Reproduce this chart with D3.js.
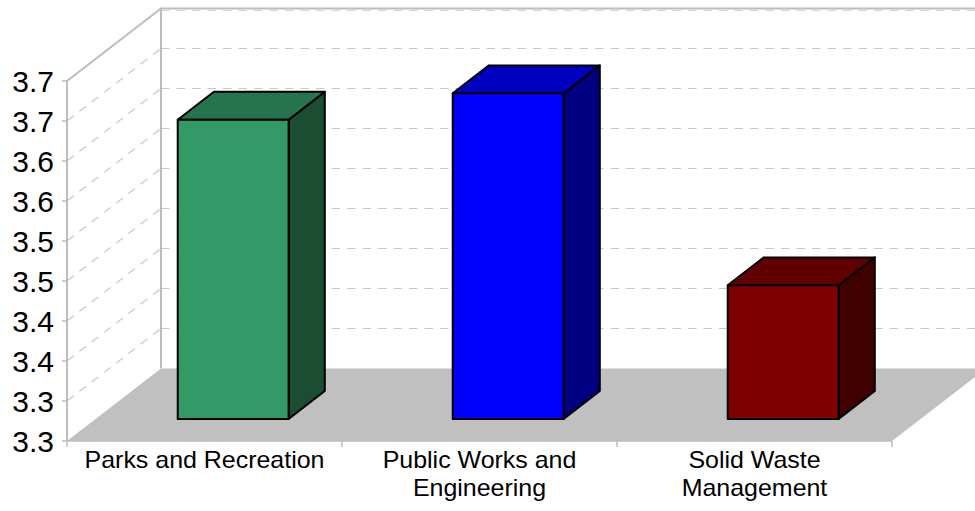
<!DOCTYPE html>
<html>
<head>
<meta charset="utf-8">
<script src="https://cdn.jsdelivr.net/npm/d3@7"></script>
<style>
  html, body { margin: 0; padding: 0; background: #fff; }
  svg { display: block; }
  text { font-family: "Liberation Sans", Arial, sans-serif; fill: #000; }
</style>
</head>
<body>
<svg id="chart" width="975" height="511"></svg>
<script>
// Department ratings
const categories = ["Parks and Recreation", "Public Works and Engineering", "Solid Waste Management"];
const categoryLines = [["Parks and Recreation"], ["Public Works and", "Engineering"], ["Solid Waste", "Management"]];
const values = [3.624, 3.657, 3.417];
const tickValues = [3.25, 3.30, 3.35, 3.40, 3.45, 3.50, 3.55, 3.60, 3.65, 3.70];
const tickLabels = ["3.3", "3.3", "3.4", "3.4", "3.5", "3.5", "3.6", "3.6", "3.7", "3.7"];

const frontColors = ["#339966", "#0000ff", "#800000"];
const topColors = ["#267350", "#0000c0", "#600000"];
const sideColors = ["#1b4d33", "#000080", "#400000"];

const W = 975, H = 511;
const svg = d3.select("#chart");

// front plane of the plot box
const x0 = 67, x1 = 892, yBottom = 441, yTop = 81;
// depth offset of the back wall
const DX = 94, DY = -72.5;
const barD0 = 0.305, barD1 = 0.69;

const x = d3.scaleBand().domain(categories).range([x0, x1]).padding(0);
const y = d3.scaleLinear().domain([3.25, 3.70]).range([yBottom, yTop]);
const barWidth = x.bandwidth() / 2.48;

const P = (px, py, d) => [px + d * DX, py + d * DY];
const poly = pts => "M" + pts.map(p => p.join(",")).join("L") + "Z";

const gridColor = "#c8c8c8";
const wallColor = "#bdbdbd";

// floor
svg.append("path")
  .attr("d", poly([P(x0, yBottom, 0), P(x1, yBottom, 0), P(x1, yBottom, 1), P(x0, yBottom, 1)]))
  .attr("fill", "#c0c0c0");

// back wall gridlines
svg.append("g").selectAll("line")
  .data(tickValues.slice(1, -1))
  .join("line")
  .attr("x1", x0 + DX).attr("x2", W + 20)
  .attr("y1", d => y(d) + DY).attr("y2", d => y(d) + DY)
  .attr("stroke", gridColor).attr("stroke-width", 1.2)
  .attr("stroke-dasharray", "8.5,7");

// side wall gridlines
svg.append("g").selectAll("line")
  .data(tickValues.slice(1, -1))
  .join("line")
  .attr("x1", x0).attr("y1", d => y(d))
  .attr("x2", x0 + DX).attr("y2", d => y(d) + DY)
  .attr("stroke", gridColor).attr("stroke-width", 1.2)
  .attr("stroke-dasharray", "8.5,7");

// top wall edge (dashed under, solid over)
svg.append("line")
  .attr("x1", x0 + DX).attr("x2", W + 20)
  .attr("y1", y(3.70) + DY + 2).attr("y2", y(3.70) + DY + 2)
  .attr("stroke", "#d4d4d4").attr("stroke-width", 1.2)
  .attr("stroke-dasharray", "8.5,7");
svg.append("line")
  .attr("x1", x0 + DX).attr("x2", W + 20)
  .attr("y1", y(3.70) + DY).attr("y2", y(3.70) + DY)
  .attr("stroke", wallColor).attr("stroke-width", 2);

// wall outline
svg.append("path")
  .attr("d", "M" + [x0, yBottom] + "L" + [x0, yTop] + "L" + P(x0, yTop, 1) + "L" + P(x0, yBottom, 1))
  .attr("fill", "none").attr("stroke", wallColor).attr("stroke-width", 2);

// floor front edge
svg.append("line")
  .attr("x1", x0).attr("x2", x1).attr("y1", yBottom).attr("y2", yBottom)
  .attr("stroke", wallColor).attr("stroke-width", 1.5);

// y ticks and labels
const yAxis = svg.append("g");
yAxis.selectAll("line").data(tickValues).join("line")
  .attr("x1", x0 - 5).attr("x2", x0)
  .attr("y1", d => y(d)).attr("y2", d => y(d))
  .attr("stroke", wallColor).attr("stroke-width", 1.5);
yAxis.selectAll("text").data(tickValues).join("text")
  .attr("x", 54).attr("y", d => y(d))
  .attr("dy", "0.36em")
  .attr("text-anchor", "end")
  .attr("font-size", 30)
  .text((d, i) => tickLabels[i]);

// category ticks
const catTicks = categories.map(c => x(c)).concat([x1]);
svg.append("g").selectAll("line").data(catTicks).join("line")
  .attr("x1", d => d).attr("x2", d => d)
  .attr("y1", yBottom).attr("y2", yBottom + 6)
  .attr("stroke", wallColor).attr("stroke-width", 1.5);

// category labels
const labels = svg.append("g");
categories.forEach((c, i) => {
  const cx = x(c) + x.bandwidth() / 2;
  const t = labels.append("text")
    .attr("text-anchor", "middle")
    .attr("font-size", 24)
    .attr("transform", `translate(${cx},0) scale(1.04,1)`);
  categoryLines[i].forEach((line, j) => {
    t.append("tspan").attr("x", 0).attr("y", 468 + j * 28).text(line);
  });
});

// bars
const bars = svg.append("g");
categories.forEach((c, i) => {
  const cx = x(c) + x.bandwidth() / 2;
  const l = cx - barWidth / 2, r = cx + barWidth / 2;
  const b = y(3.25), t = y(values[i]);
  const g = bars.append("g")
    .attr("stroke", "#000").attr("stroke-width", 2).attr("stroke-linejoin", "round");
  // side
  g.append("path").attr("fill", sideColors[i])
    .attr("d", poly([P(r, t, barD0), P(r, t, barD1), P(r, b, barD1), P(r, b, barD0)]));
  // top
  g.append("path").attr("fill", topColors[i])
    .attr("d", poly([P(l, t, barD0), P(l, t, barD1), P(r, t, barD1), P(r, t, barD0)]));
  // front
  g.append("path").attr("fill", frontColors[i])
    .attr("d", poly([P(l, t, barD0), P(r, t, barD0), P(r, b, barD0), P(l, b, barD0)]));
});
</script>
</body>
</html>
